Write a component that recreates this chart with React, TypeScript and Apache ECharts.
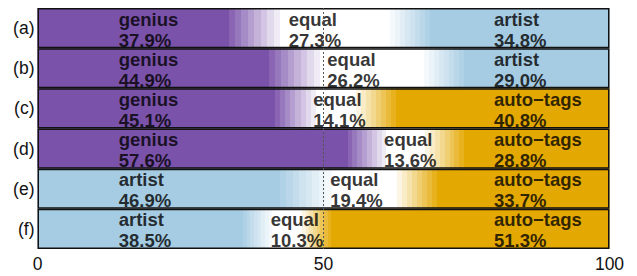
import React, { useEffect, useRef } from "react";
import * as echarts from "echarts";

const rowLabels = ["(a)", "(b)", "(c)", "(d)", "(e)", "(f)"];
const leftNames = ["genius", "genius", "genius", "genius", "artist", "artist"];
const rightNames = ["artist", "artist", "auto\u2212tags", "auto\u2212tags", "auto\u2212tags", "auto\u2212tags"];
const leftPct = [37.9, 44.9, 45.1, 57.6, 46.9, 38.5];
const equalPct = [27.3, 26.2, 14.1, 13.6, 19.4, 10.3];
const rightPct = [34.8, 29.0, 40.8, 28.8, 33.7, 51.3];
const xTicks = [0, 50, 100];

const COLORS: Record<string, number[]> = {
  genius: [122, 82, 170],
  artist: [166, 204, 227],
  "auto\u2212tags": [228, 168, 2],
  equal: [255, 255, 255],
};

const FONT = "'Liberation Sans', Arial, Helvetica, sans-serif";
const LEFT_LABEL_X = 14.2;
const RIGHT_LABEL_X = 79.8;
const EQUAL_LABEL_FRAC = 0.22;

function rgb(c: number[]) {
  return `rgb(${Math.round(c[0])},${Math.round(c[1])},${Math.round(c[2])})`;
}
function mix(a: number[], b: number[], t: number) {
  return [a[0] + (b[0] - a[0]) * t, a[1] + (b[1] - a[1]) * t, a[2] + (b[2] - a[2]) * t];
}

function makeStops(b1: number, b2: number, cL: number[], cR: number[]) {
  const W = COLORS.equal;
  const hw1 = Math.min(4.5, (b2 - b1) / 4);
  const hw2 = Math.min(3.5, (b2 - b1) / 4);
  const N = 8;
  const stops: { offset: number; color: string }[] = [];
  const clamp = (v: number) => Math.max(0, Math.min(1, v / 100));
  stops.push({ offset: 0, color: rgb(cL) });
  const band = (s: number, e: number, c1: number[], c2: number[]) => {
    stops.push({ offset: clamp(s), color: rgb(c1) });
    for (let k = 0; k < N; k++) {
      const x0 = s + (k * (e - s)) / N;
      const x1 = s + ((k + 1) * (e - s)) / N;
      const col = rgb(mix(c1, c2, (k + 1) / (N + 1)));
      stops.push({ offset: clamp(x0), color: col });
      stops.push({ offset: clamp(x1), color: col });
    }
    stops.push({ offset: clamp(e), color: rgb(c2) });
  };
  band(b1 - hw1, b1 + hw1, cL, W);
  band(b2 - hw2, b2 + hw2, W, cR);
  stops.push({ offset: 1, color: rgb(cR) });
  return stops;
}

export default function App() {
  const ref = useRef<HTMLDivElement>(null);
  useEffect(() => {
    document.body.style.margin = "0";
    if (!ref.current) return;
    const chart = echarts.init(ref.current, undefined, { renderer: "svg" });

    const fillData = rowLabels.map((_, i) => {
      const b1 = leftPct[i];
      const b2 = leftPct[i] + equalPct[i];
      return {
        value: 100,
        itemStyle: {
          color: new echarts.graphic.LinearGradient(
            0, 0, 1, 0,
            makeStops(b1, b2, COLORS[leftNames[i]], COLORS[rightNames[i]])
          ),
        },
      };
    });

    const labelData: any[] = [];
    rowLabels.forEach((_, i) => {
      labelData.push({
        value: [LEFT_LABEL_X, i],
        label: { formatter: `${leftNames[i]}\n${leftPct[i].toFixed(1)}%` },
      });
      labelData.push({
        value: [leftPct[i] + equalPct[i] * EQUAL_LABEL_FRAC, i],
        label: { formatter: `equal\n${equalPct[i].toFixed(1)}%` },
      });
      labelData.push({
        value: [RIGHT_LABEL_X, i],
        label: { formatter: `${rightNames[i]}\n${rightPct[i].toFixed(1)}%` },
      });
    });

    chart.setOption({
      animation: false,
      grid: { left: 37.5, right: 27.5, top: 8, bottom: 27, containLabel: false },
      xAxis: {
        type: "value",
        min: xTicks[0],
        max: xTicks[xTicks.length - 1],
        interval: 50,
        axisLine: { show: false },
        axisTick: { show: false },
        splitLine: { show: false },
        axisLabel: {
          fontSize: 17.5,
          color: "#111",
          fontFamily: FONT,
          margin: 6,
          formatter: (v: number) => String(v),
        },
      },
      yAxis: {
        type: "category",
        data: rowLabels,
        inverse: true,
        axisLine: { show: false },
        axisTick: { show: false },
        splitLine: { show: false },
        axisLabel: { fontSize: 17.5, color: "#111", fontFamily: FONT, margin: 3 },
      },
      series: [
        {
          type: "bar",
          data: fillData,
          barWidth: "100%",
          barGap: "-100%",
          barCategoryGap: "0%",
          z: 2,
          silent: true,
        },
        {
          type: "scatter",
          data: labelData,
          symbolSize: 0,
          z: 3,
          silent: true,
          label: {
            show: true,
            position: [0, 0],
            align: "left",
            verticalAlign: "middle",
            offset: [0, 1.5],
            fontSize: 18.5,
            lineHeight: 21,
            fontWeight: "bold",
            fontFamily: FONT,
            color: "#000",
          },
        },
        {
          type: "bar",
          data: rowLabels.map(() => 100),
          barWidth: "100%",
          barGap: "-100%",
          barCategoryGap: "0%",
          z: 4,
          silent: true,
          itemStyle: { color: "rgba(0,0,0,0)", borderColor: "#111", borderWidth: 1.5 },
          markLine: {
            silent: true,
            symbol: "none",
            label: { show: false },
            lineStyle: { type: [2, 2], color: "#555", width: 1 },
            data: [{ xAxis: 50 }],
          },
        },
      ],
    });
    return () => chart.dispose();
  }, []);
  return <div ref={ref} style={{ width: 637, height: 276 }} />;
}
